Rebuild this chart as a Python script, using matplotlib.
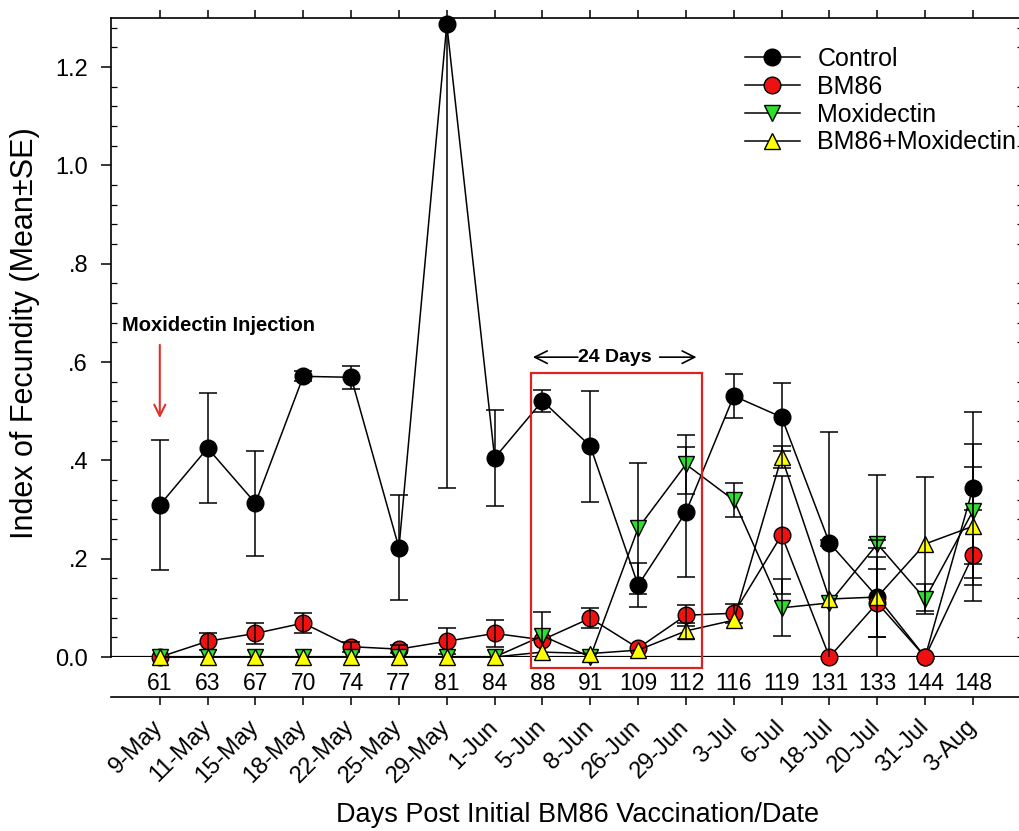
import matplotlib
matplotlib.use('Agg')
import matplotlib.pyplot as plt
import numpy as np
from matplotlib.ticker import MultipleLocator, FixedLocator, FixedFormatter, NullLocator
from matplotlib.patches import Rectangle

plt.rcParams['font.family'] = ['Liberation Sans', 'DejaVu Sans']
NARROW = ['Liberation Sans Narrow', 'Liberation Sans', 'DejaVu Sans']

days = ['61', '63', '67', '70', '74', '77', '81', '84', '88', '91',
        '109', '112', '116', '119', '131', '133', '144', '148']
dates = ['9-May', '11-May', '15-May', '18-May', '22-May', '25-May', '29-May', '1-Jun',
         '5-Jun', '8-Jun', '26-Jun', '29-Jun', '3-Jul', '6-Jul', '18-Jul', '20-Jul',
         '31-Jul', '3-Aug']

control = [0.309, 0.425, 0.313, 0.571, 0.569, 0.222, 1.287, 0.405, 0.521, 0.429,
           0.146, 0.295, 0.531, 0.488, 0.232, 0.122, 0.0, 0.344]
control_se = [0.132, 0.112, 0.107, 0.010, 0.023, 0.107, 0.943, 0.097, 0.022, 0.113,
              0.045, 0.133, 0.044, 0.069, 0.006, 0.082, 0.0, 0.154]
bm86 = [0.0, 0.032, 0.048, 0.069, 0.021, 0.016, 0.032, 0.048, 0.035, 0.079,
        0.018, 0.085, 0.089, 0.248, 0.0, 0.110, 0.0, 0.207]
bm86_se = [0.0, 0.017, 0.021, 0.021, 0.010, 0.008, 0.026, 0.028, 0.0, 0.020,
           0.0, 0.021, 0.019, 0.120, 0.0, 0.070, 0.0, 0.093]
moxi = [0.0, 0.0, 0.0, 0.0, 0.0, 0.0, 0.0, 0.0, 0.043, 0.0,
        0.262, 0.392, 0.319, 0.100, 0.110, 0.230, 0.118, 0.297]
moxi_se = [0.0, 0.0, 0.0, 0.0, 0.0, 0.0, 0.0, 0.0, 0.049, 0.0,
           0.133, 0.060, 0.034, 0.058, 0.0, 0.008, 0.030, 0.136]
combo = [0.0, 0.0, 0.0, 0.0, 0.0, 0.0, 0.0, 0.0, 0.010, 0.007,
         0.014, 0.053, 0.075, 0.407, 0.118, 0.122, 0.230, 0.266]
combo_se = [0.0, 0.0, 0.0, 0.0, 0.0, 0.0, 0.0, 0.0, 0.0, 0.0,
            0.0, 0.016, 0.0, 0.022, 0.340, 0.248, 0.136, 0.120]

series = [
    ('Control', control, control_se, 'o', '#000000', 12),
    ('BM86', bm86, bm86_se, 'o', '#ee1111', 12),
    ('Moxidectin', moxi, moxi_se, 'v', '#2ee02e', 12),
    ('BM86+Moxidectin', combo, combo_se, '^', '#ffff00', 12),
]

W, H = 1020, 831
fig = plt.figure(figsize=(W / 100, H / 100), dpi=100)
x_left, x_right = 111, 1023
ax = fig.add_axes([x_left / W, (H - 657) / H, (x_right - x_left) / W, (657 - 18) / H])

x = np.arange(len(days))
handles = []
for name, vals, se, mk, col, ms in series:
    vals = np.asarray(vals)
    se = np.asarray(se)
    ln, = ax.plot(x, vals, color='black', lw=1.1, marker=mk, markersize=ms,
                  markerfacecolor=col, markeredgecolor='black', markeredgewidth=1.0,
                  clip_on=False, label=name)
    handles.append(ln)
    m = se > 0
    ax.errorbar(x[m], vals[m], yerr=se[m], fmt='none', ecolor='black',
                elinewidth=1.1, capsize=6.5, capthick=1.1)

# categories 0..17 with one slot margin left; right edge just past the figure
ax.set_xlim(-1.02, 17.0 + (x_right - 973) / 47.8)
ax.set_ylim(0, 1.3)

# zero line
ax.axhline(0, color='black', lw=1.6, zorder=1)

for s in ['left', 'right', 'top', 'bottom']:
    ax.spines[s].set_linewidth(1.2)
ax.spines['bottom'].set_position(('outward', 29))

# x ticks
ax.xaxis.set_major_locator(FixedLocator(x))
ax.xaxis.set_minor_locator(NullLocator())
ax.set_xticklabels(dates, rotation=45, ha='right', va='center',
                   rotation_mode='anchor', fontsize=17, family=NARROW)
ax.tick_params(axis='x', which='major', direction='out', length=6, width=1.1,
               top=True, bottom=True, pad=13)

# y ticks
yt = [0.0, 0.2, 0.4, 0.6, 0.8, 1.0, 1.2]
ytl = ['0.0', '.2', '.4', '.6', '.8', '1.0', '1.2']
ax.yaxis.set_major_locator(FixedLocator(yt))
ax.yaxis.set_major_formatter(FixedFormatter(ytl))
ax.yaxis.set_minor_locator(MultipleLocator(0.04))
ax.tick_params(axis='y', which='major', direction='out', length=7, width=1.1,
               left=True, right=True, labelsize=17, pad=9.5)
ax.tick_params(axis='y', which='minor', direction='in', length=4, width=0.9,
               left=True, right=True)

# day numbers between zero line and date axis
for xi, d in zip(x, days):
    ax.text(xi, -27 / 639, d, transform=ax.get_xaxis_transform(), ha='center',
            va='center', fontsize=16.5, family=NARROW, clip_on=False)

# axis labels
fig.text(25 / W, 1 - 333 / H, 'Index of Fecundity (Mean\u00b1SE)', rotation=90,
         ha='center', va='center', fontsize=22)
fig.text(578 / W, 1 - 815 / H, 'Days Post Initial BM86 Vaccination/Date',
         ha='center', va='center', fontsize=19.5, family=NARROW)

# legend
ax.legend(handles=handles, loc='upper left', bbox_to_anchor=(745 / W, 1 - 47 / H),
          bbox_transform=fig.transFigure, frameon=False, fontsize=18,
          handlelength=2.2, handletextpad=0.7, labelspacing=0.15,
          borderpad=0, borderaxespad=0)

# annotations
ax.annotate('', xy=(0, 0.486), xytext=(0, 0.635),
            arrowprops=dict(arrowstyle='->,head_length=0.8,head_width=0.4',
                            color='#e0302a', lw=1.5, shrinkA=0, shrinkB=0))
ax.text(-0.795, 0.675, 'Moxidectin Injection', fontweight='bold', fontsize=14.5,
        ha='left', va='center')
ax.text(9.51, 0.61, '24 Days', fontweight='bold', fontsize=14, ha='center', va='center')
ax.annotate('', xy=(7.80, 0.61), xytext=(8.74, 0.61),
            arrowprops=dict(arrowstyle='->,head_length=0.9,head_width=0.45',
                            color='black', lw=1.2, shrinkA=0, shrinkB=0))
ax.annotate('', xy=(11.22, 0.61), xytext=(10.45, 0.61),
            arrowprops=dict(arrowstyle='->,head_length=0.9,head_width=0.45',
                            color='black', lw=1.2, shrinkA=0, shrinkB=0))
ax.add_patch(Rectangle((7.755, -0.022), 11.33 - 7.755, 0.578 + 0.022, fill=False,
                       edgecolor='#dd2222', lw=1.6, clip_on=False, zorder=5))

fig.savefig('out.png', dpi=100)
